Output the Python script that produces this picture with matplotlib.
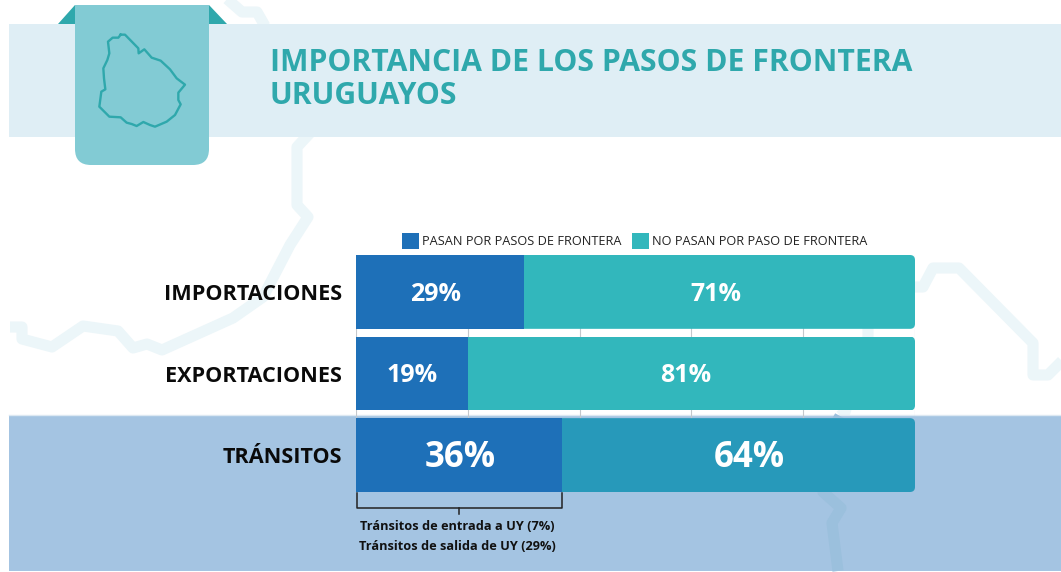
import matplotlib
matplotlib.use("Agg")
import matplotlib.pyplot as plt
from matplotlib.patches import FancyBboxPatch, Polygon, PathPatch, Rectangle
from matplotlib.path import Path
from matplotlib.transforms import IdentityTransform

plt.rcParams['font.family'] = ['Open Sans', 'DejaVu Sans']

W, H = 1061, 572

categorias = ['IMPORTACIONES', 'EXPORTACIONES', 'TRÁNSITOS']
# largo de las barras (no coincide del todo con las etiquetas)
pasan = [30.0, 20.0, 36.9]
no_pasan = [70.0, 80.0, 63.1]
etiquetas_pasan = ['29%', '19%', '36%']
etiquetas_no = ['71%', '81%', '64%']
nombres_serie = ['PASAN POR PASOS DE FRONTERA', 'NO PASAN POR PASO DE FRONTERA']
titulo = 'IMPORTANCIA DE LOS PASOS DE FRONTERA\nURUGUAYOS'
nota = ['Tránsitos de entrada a UY (7%)', 'Tránsitos de salida de UY (29%)']

# estilos
azul = '#1E70B8'
turquesa = ['#32B7BC', '#32B7BC', '#2799BA']
teal = '#2FA8AC'
banda = '#A4C4E2'
pale = '#ECF6F9'

# posicion de las etiquetas, en unidades del eje
pos_pasan = [14.3, 10.0, 18.6]
pos_no = [64.4, 58.9, 70.3]
tam_etiqueta = [18, 18, 25]

fig = plt.figure(figsize=(W / 100, H / 100), dpi=100, facecolor='white')

# fondo en pixeles
bg = fig.add_axes([0, 0, 1, 1], zorder=0)
bg.set_xlim(0, W)
bg.set_ylim(H, 0)
bg.axis('off')


def trazo(puntos, color):
    xs, ys = zip(*puntos)
    bg.plot(xs, ys, color=color, lw=8, solid_joinstyle='round', solid_capstyle='butt', zorder=1)


trazo([(10, 327), (22, 327), (22, 339), (52, 347), (83, 326), (118, 331), (133, 348), (147, 344),
       (162, 350), (233, 318), (263, 297), (290, 245), (308, 217), (297, 205), (297, 147), (310, 133)], pale)
trazo([(226, -2), (242, 12), (257, 12), (265, 26)], pale)
trazo([(910, 287), (923, 287), (933, 268), (959, 268), (1033, 343), (1033, 375), (1048, 375), (1063, 360)], pale)
trazo([(868, 320), (868, 337), (845, 412), (840, 416)], pale)

bg.add_patch(Rectangle((9, 24), W - 9, 113, fc='#DFEEF5', ec='none', zorder=2))
bg.add_patch(Rectangle((9, 415), W - 9, 156, fc=banda, ec='none', zorder=2))
bg.plot([9, W], [414.5, 414.5], color='#DCE8F2', lw=1, zorder=2)
trazo([(840, 416), (835, 425), (823, 492), (841, 508), (832, 523), (838, 571)], '#9BC0DD')
bg.lines[-1].set_zorder(3)

# cinta con el mapa
bg.add_patch(Polygon([(58, 24), (75, 24), (75, 5)], fc=teal, ec='none', zorder=3))
bg.add_patch(Polygon([(209, 5), (209, 24), (227, 24)], fc=teal, ec='none', zorder=3))
verts = [(75, 5), (209, 5), (209, 149), (209, 165), (193, 165), (91, 165), (75, 165), (75, 149), (75, 5)]
codes = [Path.MOVETO, Path.LINETO, Path.LINETO, Path.CURVE3, Path.CURVE3, Path.LINETO, Path.CURVE3, Path.CURVE3,
         Path.CLOSEPOLY]
bg.add_patch(PathPatch(Path(verts, codes), fc='#82CBD4', ec='none', zorder=4))

mapa = [(362, 104), (375, 104), (415, 145), (416, 160), (433, 148), (455, 173), (482, 182), (510, 208),
        (530, 235), (555, 254), (535, 278), (535, 300), (542, 313), (525, 345), (500, 365), (465, 380),
        (450, 375), (430, 366), (410, 378), (395, 372), (380, 368), (362, 352), (328, 350), (298, 320),
        (304, 275), (316, 268), (312, 235), (310, 205), (322, 180), (328, 160), (324, 125), (338, 113),
        (355, 113), (362, 104)]
bg.plot([p[0] / 3 for p in mapa], [p[1] / 3 for p in mapa], color=teal, lw=1.7, zorder=5)

bg.text(270, 79.5, titulo, fontsize=21.7, fontweight='bold', color=teal, va='center', ha='left',
        linespacing=1.12, zorder=5)

# llave debajo de la barra de transitos
bg.plot([356.5, 356.5, 561.5, 561.5], [493, 507.5, 507.5, 493], color='#222222', lw=1.1, zorder=5)
bg.plot([459, 459], [507.5, 514], color='#222222', lw=1.1, zorder=5)
bg.text(457, 526.5, nota[0], fontsize=9.2, fontweight='bold', color='#111111', ha='center', va='center', zorder=5)
bg.text(457, 547, nota[1], fontsize=9.2, fontweight='bold', color='#111111', ha='center', va='center', zorder=5)

# barras
x0, x1, y0, y1 = 356, 915, 255, 492
ax = fig.add_axes([x0 / W, 1 - y1 / H, (x1 - x0) / W, (y1 - y0) / H], zorder=1)
ax.patch.set_alpha(0)
y = list(range(len(categorias)))
alto = 0.905

b1 = ax.barh(y, pasan, height=alto, color=azul, zorder=3, label=nombres_serie[0])
b2 = ax.barh(y, no_pasan, left=pasan, height=alto, color=turquesa, zorder=3, label=nombres_serie[1])
ax.set_xlim(0, 100)
ax.set_ylim(2 + alto / 2, -alto / 2)

ax.set_yticks(y, categorias, fontsize=15.6, fontweight='bold', color='#0A0A0A')
ax.set_xticks([0, 20, 40, 60, 80, 100], [''] * 6)
ax.tick_params(length=0, pad=10)
ax.set_axisbelow(True)
ax.grid(axis='x', color='#C4C8CC', lw=0.8)
for s in ax.spines.values():
    s.set_visible(False)

# esquinas redondeadas solo a la derecha
for rect in b2:
    ext = rect.get_window_extent()
    caja = FancyBboxPatch((ext.x0 - 30, ext.y0), ext.width + 30, ext.height,
                          boxstyle='round,pad=0,rounding_size=5', transform=IdentityTransform())
    rect.set_clip_path(caja)

for i in y:
    ax.text(pos_pasan[i], i + 0.03, etiquetas_pasan[i], color='white', fontsize=tam_etiqueta[i], fontweight='bold',
            ha='center', va='center', zorder=4)
    ax.text(pos_no[i], i + 0.03, etiquetas_no[i], color='white', fontsize=tam_etiqueta[i], fontweight='bold',
            ha='center', va='center', zorder=4)

ax.legend(handles=[b1, b2], ncol=2, frameon=False, fontsize=9.15, loc='center',
          bbox_to_anchor=((634.5 - x0) / (x1 - x0), 1 + 14 / (y1 - y0)), handlelength=1.34, handleheight=1.67,
          handletextpad=0.24, columnspacing=0.78, labelcolor='#222222', borderpad=0, borderaxespad=0)

fig.savefig('out.png', dpi=100)
